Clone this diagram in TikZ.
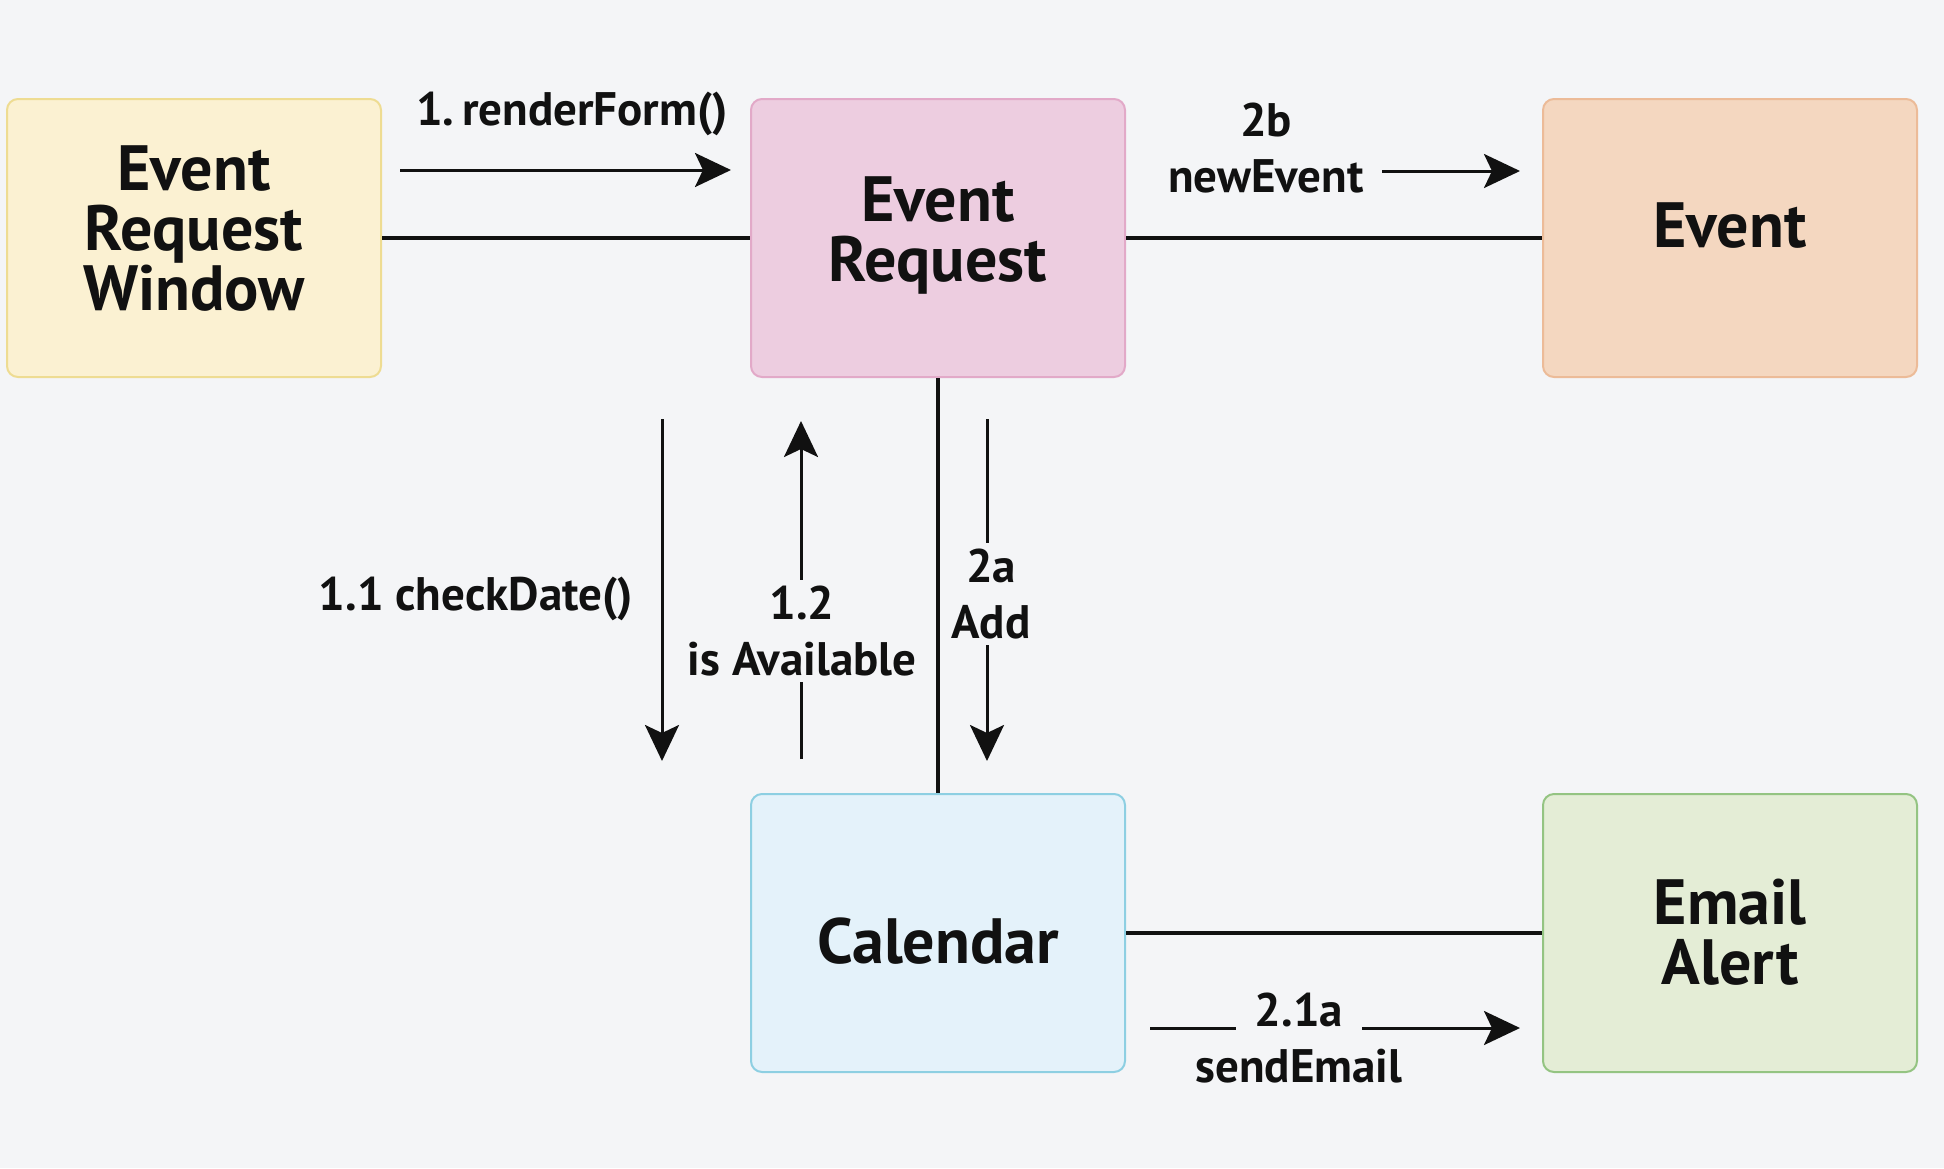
\documentclass[tikz,border=0pt]{standalone}
\usepackage{fontspec}
\setmainfont{PT Sans}
\usetikzlibrary{arrows.meta}
\definecolor{bg}{HTML}{F4F5F7}
\definecolor{yfill}{HTML}{FBF1D2}
\definecolor{ydraw}{HTML}{EEDC92}
\definecolor{pfill}{HTML}{EDCDE0}
\definecolor{pdraw}{HTML}{E2A9C8}
\definecolor{ofill}{HTML}{F4D7C0}
\definecolor{odraw}{HTML}{ECBB98}
\definecolor{bfill}{HTML}{E4F2FA}
\definecolor{bdraw}{HTML}{8DCFE2}
\definecolor{gfill}{HTML}{E4EDD6}
\definecolor{gdraw}{HTML}{94C482}
\definecolor{ink}{HTML}{111111}
\tikzset{
  boxnode/.style={draw, rounded corners=11pt, line width=2pt, minimum width=374pt,
    minimum height=278pt, inner sep=0pt},
  boxtext/.style={align=center, text=ink, inner sep=0pt,
    font=\bfseries\fontsize{64}{60}\selectfont},
  link/.style={draw=ink, line width=3.4pt},
  arr/.style={draw=ink, line width=3pt, -{Stealth[length=36pt,width=34pt,inset=8pt]}},
  lbl/.style={align=center, inner sep=2pt, text=ink,
    font=\bfseries\fontsize{47}{56}\selectfont},
}
\begin{document}
\begin{tikzpicture}[x=1pt,y=-1pt]
\fill[bg] (0,0) rectangle (1944,1168);
\useasboundingbox (0,0) rectangle (1944,1168);

% boxes
\node[boxnode, fill=yfill, draw=ydraw] (erw) at (194,238) {};
\node[boxnode, fill=pfill, draw=pdraw] (er) at (938,238) {};
\node[boxnode, fill=ofill, draw=odraw] (ev) at (1730,238) {};
\node[boxnode, fill=bfill, draw=bdraw] (cal) at (938,933) {};
\node[boxnode, fill=gfill, draw=gdraw] (em) at (1730,933) {};

\node[boxtext] (erwT) at ([yshift=9pt]erw.center) {Event\\Request\\Window};
\node[boxtext] (erT) at ([yshift=3pt]er.center) {Event\\Request};
\node[boxtext] (evT) at ([yshift=12pt]ev.center) {Event};
\node[boxtext] (calT) at ([yshift=-8pt]cal.center) {Calendar};
\node[boxtext] (emT) at ([yshift=1pt]em.center) {Email\\Alert};

% links
\draw[link] (erw) -- (er);
\draw[link] (er) -- (ev);
\draw[link] (er) -- (cal);
\draw[link] (cal) -- (em);

% arrow end points
\coordinate (rfS) at (400,170);
\coordinate (rfE) at (731,170);
\coordinate (nwS) at (1382,171);
\coordinate (nwE) at (1520,171);
\coordinate (cdS) at (662,419);
\coordinate (cdE) at (662,761);
\coordinate (avS) at (801,759);
\coordinate (avE) at (801,421);
\coordinate (adS) at (987,419);
\coordinate (adE) at (987,761);
\coordinate (seS) at (1150,1028);
\coordinate (seE) at (1520,1028);

% messages
\draw[arr] (rfS) -- (rfE);
\node[lbl] (rfL) at (572,114) {1.\,renderForm()};

\draw[arr] (nwS) -- (nwE);
\node[lbl] (nwL) at (1266,148) {2b\\newEvent};

\draw[arr] (cdS) -- (cdE);
\node[lbl] (cdL) at (476,599) {1.1 checkDate()};

\draw[arr] (avS) -- (avE);
\node[lbl, fill=bg, inner ysep=6pt] (avL) at (802,631) {1.2\\is Available};

\draw[arr] (adS) -- (adE);
\node[lbl, fill=bg, inner ysep=6pt] (adL) at (991,594) {2a\\Add};

\draw[arr] (seS) -- (seE);
\node[lbl, fill=bg, minimum width=126pt, inner ysep=5pt, anchor=base] (seL1) at (1299,1026) {2.1a};
\node[lbl, anchor=base] (seL2) at (1299,1082) {sendEmail};
\end{tikzpicture}
\end{document}
